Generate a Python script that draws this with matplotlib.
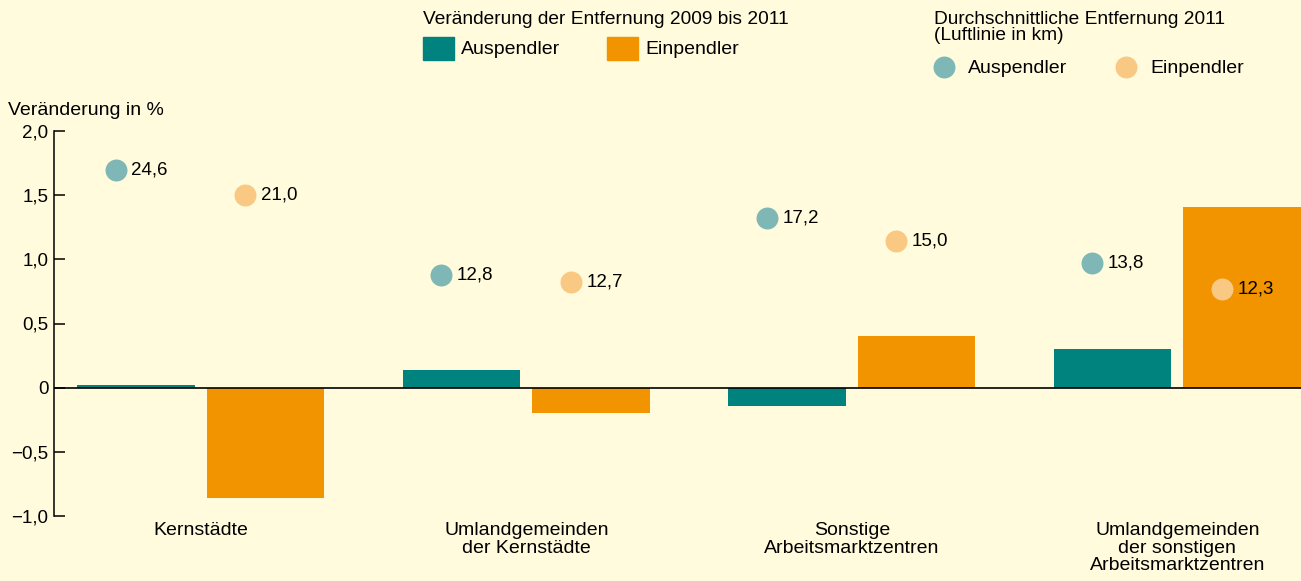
import matplotlib
matplotlib.use('Agg')
import matplotlib.pyplot as plt
from matplotlib.patches import Rectangle
from matplotlib.lines import Line2D
import numpy as np

categories = ['Kernstädte', 'Umlandgemeinden\nder Kernstädte',
              'Sonstige\nArbeitsmarktzentren',
              'Umlandgemeinden\nder sonstigen\nArbeitsmarktzentren']
change_aus = [0.02, 0.14, -0.14, 0.30]
change_ein = [-0.86, -0.20, 0.40, 1.41]
dist_aus = [24.6, 12.8, 17.2, 13.8]
dist_ein = [21.0, 12.7, 15.0, 12.3]
# height of the distance dots on the % axis
dot_y_aus = [1.70, 0.88, 1.32, 0.97]
dot_y_ein = [1.50, 0.82, 1.14, 0.77]
yticks = [-1.0, -0.5, 0, 0.5, 1.0, 1.5, 2.0]
ytick_labels = ['−1,0', '−0,5', '0', '0,5', '1,0', '1,5', '2,0']

BG = '#FFFBDC'
TEAL = '#00827F'
ORANGE = '#F29400'
TEAL_L = '#7FB7B7'
ORANGE_L = '#F9C882'
plt.rcParams['font.family'] = ['Liberation Sans', 'DejaVu Sans']
FS = 14

W, H = 1301, 581
fig = plt.figure(figsize=(W / 100, H / 100), dpi=100, facecolor=BG)
ax = fig.add_axes([54 / W, 1 - 516 / H, 1 - 54 / W, (516 - 131) / H])
ax.set_facecolor(BG)

x = np.arange(len(categories))
bw = 0.362
off = 0.199
ax.bar(x - off, change_aus, bw, color=TEAL, zorder=2)
ax.bar(x + off, change_ein, bw, color=ORANGE, zorder=2)
ax.axhline(0, color='black', lw=1.2, zorder=3)

ax.scatter(x - off - 0.062, dot_y_aus, s=250, color=TEAL_L, zorder=4, linewidths=0)
ax.scatter(x + off - 0.062, dot_y_ein, s=250, color=ORANGE_L, zorder=4, linewidths=0)
for xi, yi, v in zip(x - off - 0.062, dot_y_aus, dist_aus):
    ax.annotate(f'{v:.1f}'.replace('.', ','), (xi, yi), xytext=(11, 0),
                textcoords='offset points', va='center', fontsize=13.5, zorder=5)
for xi, yi, v in zip(x + off - 0.062, dot_y_ein, dist_ein):
    ax.annotate(f'{v:.1f}'.replace('.', ','), (xi, yi), xytext=(11, 0),
                textcoords='offset points', va='center', fontsize=13.5, zorder=5)

ax.set_xlim(-0.451, 3.38)
ax.set_ylim(-1, 2)
ax.set_yticks(yticks, ytick_labels, fontsize=13.5)
ax.tick_params(axis='y', direction='in', length=8, width=1.1, pad=4)
ax.set_xticks(x, categories, fontsize=FS, linespacing=1.02)
ax.tick_params(axis='x', length=0, pad=4.5)
for s in ['top', 'right', 'bottom']:
    ax.spines[s].set_visible(False)
ax.spines['left'].set_linewidth(1.1)

fig.text(8 / W, 1 - 115 / H, 'Veränderung in %', fontsize=FS, va='baseline')

# legend: change
fig.text(423 / W, 1 - 24 / H, 'Veränderung der Entfernung 2009 bis 2011',
         fontsize=13.8, va='baseline')
for x0, col, lab in [(423, TEAL, 'Auspendler'), (607, ORANGE, 'Einpendler')]:
    fig.add_artist(Rectangle((x0 / W, 1 - 60 / H), 31 / W, 23 / H,
                             transform=fig.transFigure, color=col))
    fig.text((x0 + 38) / W, 1 - 54 / H, lab, fontsize=FS, va='baseline')

# legend: distance
fig.text(934 / W, 1 - 24 / H, 'Durchschnittliche Entfernung 2011',
         fontsize=13.8, va='baseline')
fig.text(934 / W, 1 - 40 / H, '(Luftlinie in km)', fontsize=13.8, va='baseline')
for x0, col, lab in [(944, TEAL_L, 'Auspendler'), (1126, ORANGE_L, 'Einpendler')]:
    fig.add_artist(Line2D([x0 / W], [1 - 67 / H], marker='o', ms=15.8,
                          color=col, mew=0, transform=fig.transFigure))
    fig.text((x0 + 24) / W, 1 - 73 / H, lab, fontsize=FS, va='baseline')

fig.savefig('out.png', dpi=100, facecolor=BG)
